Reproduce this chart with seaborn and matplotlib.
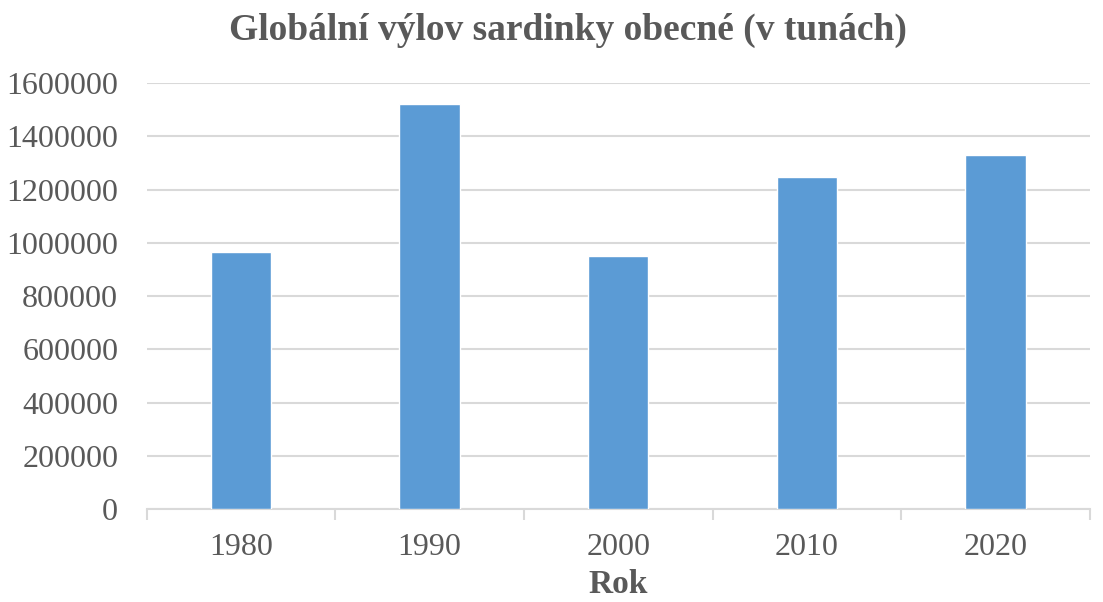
import matplotlib
matplotlib.use("Agg")
import matplotlib.pyplot as plt
import seaborn as sns
import pandas as pd
import numpy as np

# Data
years = ["1980", "1990", "2000", "2010", "2020"]
catch_tonnes = [967000, 1522000, 951000, 1247000, 1331000]
y_ticks = [0, 200000, 400000, 600000, 800000, 1000000, 1200000, 1400000, 1600000]

TEXT_COLOR = "#595959"
GRID_COLOR = "#d9d9d9"
BAR_COLOR = "#5b9bd5"

sns.set_theme(style="white")
plt.rcParams['font.family'] = ['Liberation Serif', 'DejaVu Serif']

df = pd.DataFrame({"Rok": years, "Vylov": catch_tonnes})

fig = plt.figure(figsize=(11.03, 6.02), dpi=100)
ax = fig.add_axes([0.133, 0.1545, 0.855, 0.7075])

sns.barplot(data=df, x="Rok", y="Vylov", color=BAR_COLOR, width=0.32,
            saturation=1, ax=ax, zorder=3)

ax.set_ylim(0, 1600000)
ax.set_xlim(-0.5, len(years) - 0.5)
ax.set_yticks(y_ticks)
ax.set_yticklabels([str(v) for v in y_ticks])
ax.yaxis.grid(True, color=GRID_COLOR, linewidth=1.5, zorder=0)
ax.xaxis.grid(False)

for side in ["top", "right", "left"]:
    ax.spines[side].set_visible(False)
ax.spines["bottom"].set_color(GRID_COLOR)
ax.spines["bottom"].set_linewidth(1.5)

# tick marks between categories, like Excel
ax.set_xticks(np.arange(-0.5, len(years)), minor=True)
ax.tick_params(axis="x", which="minor", bottom=True, length=8, width=1.5,
               color=GRID_COLOR, direction="out")
ax.tick_params(axis="x", which="major", length=0, pad=17.5, labelsize=23, labelcolor=TEXT_COLOR)
ax.tick_params(axis="y", length=0, pad=20.5, labelsize=23, labelcolor=TEXT_COLOR)

ax.set_ylabel("")
ax.set_xlabel("Rok", fontsize=24, fontweight="bold", color=TEXT_COLOR, labelpad=5)
fig.text(0.515, 1 - 40 / 602, "Globální výlov sardinky obecné (v tunách)", fontsize=27,
         fontweight="bold", color=TEXT_COLOR, ha="center", va="baseline")

fig.savefig("out.png", dpi=100)
plt.close(fig)
